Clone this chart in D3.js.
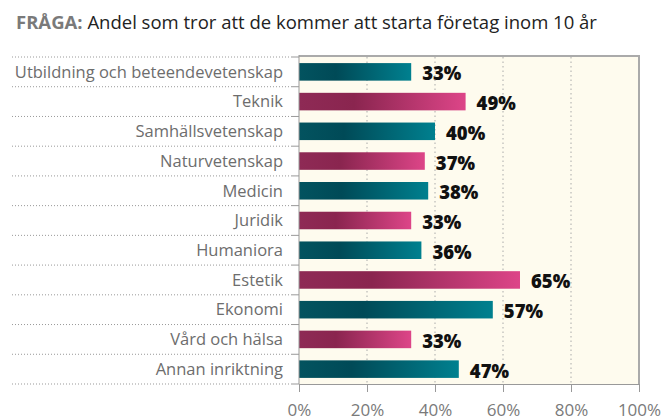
<!DOCTYPE html>
<html>
<head>
<meta charset="utf-8">
<script src="https://cdn.jsdelivr.net/npm/d3@7/dist/d3.min.js"></script>
<style>
  body { margin: 0; background: #fff; }
  text { font-family: "Open Sans", sans-serif; }
</style>
</head>
<body>
<div id="chart"></div>
<script>
var categories = ["Utbildning och beteendevetenskap", "Teknik", "Samhällsvetenskap",
    "Naturvetenskap", "Medicin", "Juridik", "Humaniora", "Estetik", "Ekonomi",
    "Vård och hälsa", "Annan inriktning"];
var values = [33, 49, 40, 37, 38, 33, 36, 65, 57, 33, 47];
var tickValues = [0, 20, 40, 60, 80, 100];

var width = 663, height = 420;
var plotLeft = 299, plotRight = 639, plotTop = 57, plotBottom = 384;

var svg = d3.select("#chart").append("svg")
    .attr("width", width)
    .attr("height", height);

var defs = svg.append("defs");
function gradient(id, c0, c1, c2) {
    var g = defs.append("linearGradient").attr("id", id)
        .attr("x1", "0").attr("x2", "1").attr("y1", "0").attr("y2", "0");
    g.append("stop").attr("offset", "0").attr("stop-color", c0);
    g.append("stop").attr("offset", "0.33").attr("stop-color", c1);
    g.append("stop").attr("offset", "1").attr("stop-color", c2);
}
gradient("teal", "#03535f", "#004a57", "#00808f");
gradient("pink", "#8e2a55", "#8a254f", "#dd4588");

// title
var title = svg.append("text")
    .attr("x", 16)
    .attr("y", 29)
    .style("font-size", "18.5px");
title.append("tspan").text("FRÅGA: ").style("font-weight", "bold").style("fill", "#7a7a7a");
title.append("tspan").text("Andel som tror att de kommer att starta företag inom 10 år").style("fill", "#222");

var x = d3.scaleLinear().domain([0, 100]).range([plotLeft, plotRight]);
var y = d3.scaleBand().domain(categories).range([plotTop, plotBottom])
    .paddingInner(0.41).paddingOuter(0.205);

// plot background
svg.append("rect")
    .attr("x", x(0)).attr("y", plotTop - 1)
    .attr("width", x(100) - x(0)).attr("height", plotBottom - plotTop + 1)
    .style("fill", "#fefbee");

// grid
svg.append("g").selectAll("line")
    .data(tickValues.slice(1, -1))
    .enter().append("line")
    .attr("x1", function(d){ return x(d); })
    .attr("x2", function(d){ return x(d); })
    .attr("y1", plotTop).attr("y2", plotBottom)
    .style("stroke", "#aaa")
    .style("stroke-width", 1)
    .style("stroke-dasharray", "1.5,3");

// frame top and right
svg.append("path")
    .attr("d", "M" + x(0) + "," + (plotTop - 1) + "H" + x(100) + "V" + plotBottom)
    .style("fill", "none")
    .style("stroke", "#aaa")
    .style("stroke-width", 2);

// row separators
var step = y.step();
var bounds = d3.range(categories.length + 1).map(function(i){ return plotTop + i * step; });
svg.append("g").selectAll("line")
    .data(bounds)
    .enter().append("line")
    .attr("x1", 12).attr("x2", plotLeft - 7)
    .attr("y1", function(d){ return d; })
    .attr("y2", function(d){ return d; })
    .style("stroke", "#999")
    .style("stroke-dasharray", "1,2");
svg.append("g").selectAll("line")
    .data(bounds)
    .enter().append("line")
    .attr("x1", plotLeft - 7).attr("x2", plotLeft)
    .attr("y1", function(d){ return d; })
    .attr("y2", function(d){ return d; })
    .style("stroke", "#999");

// category labels
svg.append("g").selectAll("text")
    .data(categories)
    .enter().append("text")
    .attr("x", plotLeft - 16)
    .attr("y", function(d){ return y(d) + y.bandwidth() / 2; })
    .attr("dy", "0.35em")
    .attr("text-anchor", "end")
    .style("font-size", "16.5px")
    .style("fill", "#6d6d6d")
    .text(function(d){ return d; });

// bars
svg.append("g").selectAll("rect")
    .data(values)
    .enter().append("rect")
    .attr("x", x(0))
    .attr("y", function(d, i){ return y(categories[i]); })
    .attr("width", function(d){ return x(d) - x(0); })
    .attr("height", y.bandwidth())
    .style("fill", function(d, i){ return i % 2 ? "url(#pink)" : "url(#teal)"; });

// value labels
svg.append("g").selectAll("text")
    .data(values)
    .enter().append("text")
    .attr("x", function(d){ return x(d) + 11; })
    .attr("y", function(d, i){ return y(categories[i]) + y.bandwidth() / 2 + 2; })
    .attr("dy", "0.35em")
    .style("font-size", "18.5px")
    .style("font-weight", "800")
    .style("fill", "#111")
    .text(function(d){ return d + "%"; });

// y axis line
svg.append("line")
    .attr("x1", plotLeft).attr("x2", plotLeft)
    .attr("y1", plotTop - 2).attr("y2", plotBottom)
    .style("stroke", "#999");

// x axis
var xAxis = svg.append("g")
    .attr("transform", "translate(0," + plotBottom + ")")
    .call(d3.axisBottom(x).tickValues(tickValues).tickSize(8).tickPadding(12)
        .tickFormat(function(d){ return d + "%"; }));
xAxis.select(".domain").style("stroke", "#999");
xAxis.selectAll(".tick line").style("stroke", "#999");
xAxis.selectAll("text")
    .style("font-family", "'Open Sans', sans-serif")
    .style("font-size", "17px")
    .style("fill", "#7a7a7a");
</script>
</body>
</html>
